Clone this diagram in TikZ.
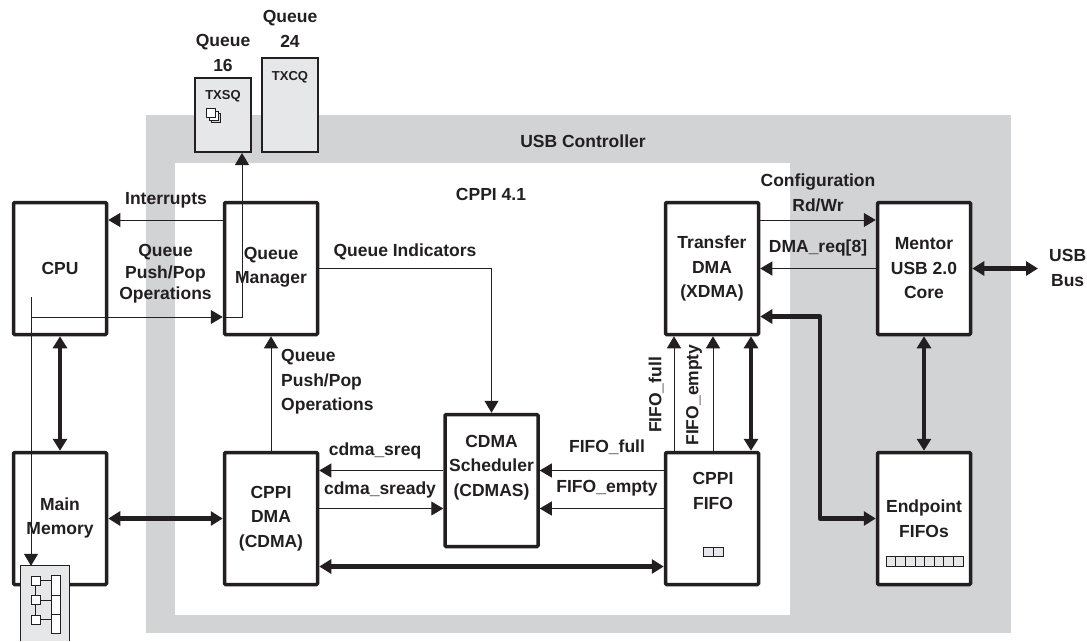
\documentclass[tikz,border=0pt]{standalone}
\usepackage{fontspec}
\setmainfont{Liberation Sans}
\usetikzlibrary{positioning,arrows.meta}

\begin{document}
\begin{tikzpicture}[%
	x=1pt,y=-1pt,node distance=114.5pt,
	>={Triangle[length=12pt,width=14pt]},
	every node/.style={text=inkblack,font=\fontsize{17.5}{24.5}\selectfont\bfseries,align=center,inner sep=0pt},
	blockbox/.style={draw=inkblack,fill=white,line width=3.5pt,rounded corners=1pt,minimum width=93pt,minimum height=132pt},
	queuebox/.style={draw=inkblack,fill=cellgray,line width=2pt,minimum width=56pt},
	cellbox/.style={draw=inkblack,fill=white,line width=.8pt,minimum width=9pt,minimum height=9pt},
	fifocell/.style={draw=inkblack,fill=cellgray,line width=.8pt,minimum height=9.5pt},
	smalltext/.style={font=\fontsize{13}{15}\selectfont\bfseries},
	sigline/.style={draw=inkblack,line width=1pt},
	widebus/.style={draw=inkblack,line width=4.5pt,line join=round}]
	\definecolor{inkblack}{HTML}{231F20}
	\definecolor{usbgray}{HTML}{D1D3D4}
	\definecolor{cellgray}{HTML}{E6E7E8}
	\useasboundingbox (0,0) rectangle (1087,641);

	% controller background
	\fill[usbgray] (146,115) rectangle (1011,633);
	\fill[white] (175,163) rectangle (790,615);
	\node (usbctl) at (583,141) {USB Controller};
	\node (cppi) at (491,194) {CPPI 4.1};

	% blocks
	\node[blockbox] (cpu) at (60,268.5) {CPU};
	\node[blockbox,right=of cpu] (qm) {};
	\node (qmtext) at (271,267) {Queue\\Manager};
	\node[blockbox,below=of cpu] (mem) {};
	\node (memtext) at (60,518) {Main\\Memory};
	\node[blockbox,below=of qm] (cdma) {CPPI\\DMA\\(CDMA)};
	\node[blockbox] (sched) at (491.5,480.5) {};
	\node (schedtext) at (491.5,467.5) {CDMA\\Scheduler\\(CDMAS)};
	\node[blockbox,right=344.5pt of qm] (xdma) {Transfer\\DMA\\(XDMA)};
	\node[blockbox,right=115.5pt of xdma] (mentor) {Mentor\\USB 2.0\\Core};
	\node[blockbox,below=of xdma] (fifo) {};
	\node (fifotext) at (713,491) {CPPI\\FIFO};
	\node[blockbox,below=of mentor] (endpt) {Endpoint\\FIFOs};
	\node[anchor=west] (usbbus) at (1049,268) {USB\\Bus};

	% queues
	\node[queuebox,minimum height=74pt] (txsq) at (223,115) {};
	\node[queuebox,minimum height=94pt] (txcq) at (290,105) {};
	\node[smalltext] (txsqtext) at (223,96) {TXSQ};
	\node[smalltext] (txcqtext) at (290,77) {TXCQ};
	\node (q16) at (223,53) {Queue\\16};
	\node (q24) at (290,29) {Queue\\24};
	\foreach \o/\c in {5/usbgray,2.5/white,0/white}
		\node[cellbox,fill=\c] (stack\o) at (211+\o,113+\o) {};

	% fifo cells
	\foreach \i in {0,1}
		\node[fifocell,minimum width=10pt] (fcell\i) at (708+10*\i,552) {};
	\foreach \i in {0,...,7}
		\node[fifocell,minimum width=9.6pt] (ecell\i) at (891+9.6*\i,561.5) {};

	% linking ram
	\node[fill=cellgray,minimum width=48pt,minimum height=75pt] (lram) at (45,603.5) {};
	\draw[inkblack,line width=1pt] (lram.south west) |- (lram.north east) -- (lram.south east);
	\foreach \i in {0,1,2} {
		\node[cellbox] (lreg\i) at (35.5,580.5+19.5*\i) {};
		\node[cellbox,minimum height=19.5pt] (ldesc\i) at (55.5,585.5+19.3*\i) {};
		\draw[inkblack,line width=.8pt] (lreg\i.east) -- (lreg\i.east -| ldesc\i.west);
	}
	\draw[inkblack,line width=.8pt] (lreg0) -- (lreg1);
	\draw[inkblack,line width=.8pt] (lreg1) -- (lreg2);

	% control connectors
	\coordinate (cpudown) at (31,297);
	\coordinate (cpuright) at (31,317);
	\draw[sigline,->] (cpudown) -- (cpudown |- lram.north);
	\draw[sigline,->] (cpuright) -- (qm.west |- cpuright);
	\draw[sigline,->] (qm.west |- cpuright) -| ([xshift=19pt]txsq.south);
	\draw[sigline,->] ([yshift=48.5pt]qm.west) -- ([yshift=48.5pt]cpu.east);
	\draw[sigline,->] (qm.east) -| (sched.north);
	\draw[sigline,->] (cdma) -- (qm);
	\draw[sigline,->] ([yshift=10pt]sched.west) -- ([yshift=48pt]cdma.east);
	\draw[sigline,->] ([yshift=10pt]cdma.east) -- ([yshift=-28pt]sched.west);
	\draw[sigline,->] ([yshift=48pt]fifo.west) -- ([yshift=10pt]sched.east);
	\draw[sigline,->] ([yshift=10pt]fifo.west) -- ([yshift=-28pt]sched.east);
	\draw[sigline,->] ([xshift=-38pt]fifo.north) -- ([xshift=-38pt]xdma.south);
	\draw[sigline,->] ([xshift=1pt]fifo.north) -- ([xshift=1pt]xdma.south);
	\draw[sigline,->] ([yshift=48.5pt]xdma.east) -- ([yshift=48.5pt]mentor.west);
	\draw[sigline,->] (mentor.west) -- (xdma.east);

	% data connectors
	\draw[widebus,<->] (cpu) -- (mem);
	\draw[widebus,<->] (mem) -- (cdma);
	\draw[widebus,<->] ([yshift=-48pt]cdma.east) -- ([yshift=-48pt]fifo.west);
	\draw[widebus,<->] ([xshift=39pt]xdma.south) -- ([xshift=39pt]fifo.north);
	\coordinate (busdrop) at (820,518.5);
	\draw[widebus,<->] ([yshift=-48pt]xdma.east) -| (busdrop) -- (endpt.west);
	\draw[widebus,<->] (mentor) -- (endpt);
	\coordinate (usbend) at (1038,268.5);
	\draw[widebus,<->] (mentor.east) -- (usbend);

	% connector labels
	\node (intr) at (166,200) {Interrupts};
	\node[font=\fontsize{17.5}{21.5}\selectfont\bfseries] (pushcpu) at (165.5,274) {Queue\\Push/Pop\\Operations};
	\node[align=left,anchor=west] (pushdma) at (281,382) {Queue\\Push/Pop\\Operations};
	\node (qind) at (405,252) {Queue Indicators};
	\node (sreq) at (375,451) {cdma\_sreq};
	\node (sready) at (380,490) {cdma\_sready};
	\node (ffull) at (607,447) {FIFO\_full};
	\node (fempty) at (607,488) {FIFO\_empty};
	\node[rotate=90] (vfull) at (656,395) {FIFO\_full};
	\node[rotate=90] (vempty) at (694,395) {FIFO\_empty};
	\node (config) at (818,193) {Configuration\\Rd/Wr};
	\node (dmareq) at (818,248) {DMA\_req[8]};
\end{tikzpicture}
\end{document}
